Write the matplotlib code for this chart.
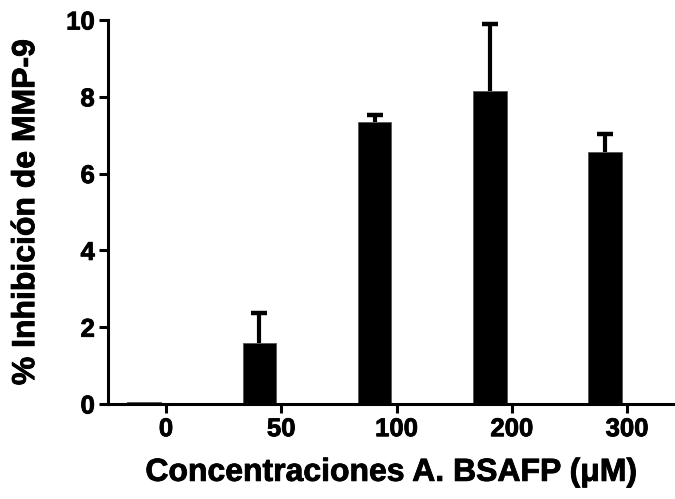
import numpy as np
import matplotlib
matplotlib.use("Agg")
import matplotlib.pyplot as plt
import matplotlib.patheffects as pe

# ---- Data ----
conc_labels = ["0", "50", "100", "200", "300"]
inhibition = [0.05, 1.60, 7.35, 8.16, 6.57]
err_upper = [0.0, 0.78, 0.18, 1.74, 0.45]

plt.rcParams['font.family'] = ['Liberation Sans', 'DejaVu Sans']
plt.rcParams['font.weight'] = 'bold'

fig = plt.figure(figsize=(6.75, 4.99), dpi=100)
ax = fig.add_axes([0.16, 0.1904, 0.84, 0.7695])

x = np.arange(len(conc_labels))
bar_shift = -0.19
bar_w = 0.29

ax.bar(x + bar_shift, inhibition, width=bar_w, color='black', edgecolor='#555555',
       linewidth=0.6, zorder=2)

# upper error bars only (no error bar for the control)
has_err = np.array(err_upper) > 0
xe = (x + bar_shift)[has_err]
ye = np.array(inhibition)[has_err]
ee = np.array(err_upper)[has_err]
_, caps, _ = ax.errorbar(xe, ye, yerr=[np.zeros(len(ee)), ee],
                         fmt='none', ecolor='black', elinewidth=3, capsize=6,
                         capthick=3.2, zorder=3)
for cap in caps:
    if np.allclose(cap.get_ydata(), ye):
        cap.set_visible(False)

ax.set_xlim(-0.503, 4.416)
ax.set_ylim(0, 10)
ax.set_xticks(x)
ax.set_xticklabels(conc_labels)
ax.set_yticks([0, 2, 4, 6, 8, 10])

for side in ['top', 'right']:
    ax.spines[side].set_visible(False)
for side in ['left', 'bottom']:
    ax.spines[side].set_linewidth(2.2)

ax.tick_params(axis='both', length=6.5, width=2.2, labelsize=18.5, pad=3)

ax.set_xlabel("Concentraciones A. BSAFP (\u03bcM)", fontsize=23, fontweight='bold', labelpad=12)
ax.set_ylabel("% Inhibición de MMP-9", fontsize=23, fontweight='bold', labelpad=18)

# heavier strokes on all text
heavy = [pe.withStroke(linewidth=0.6, foreground='black')]
for t in ax.get_xticklabels() + ax.get_yticklabels() + [ax.xaxis.label, ax.yaxis.label]:
    t.set_fontweight('bold')
    t.set_path_effects(heavy)

plt.savefig("out.png", dpi=100)
